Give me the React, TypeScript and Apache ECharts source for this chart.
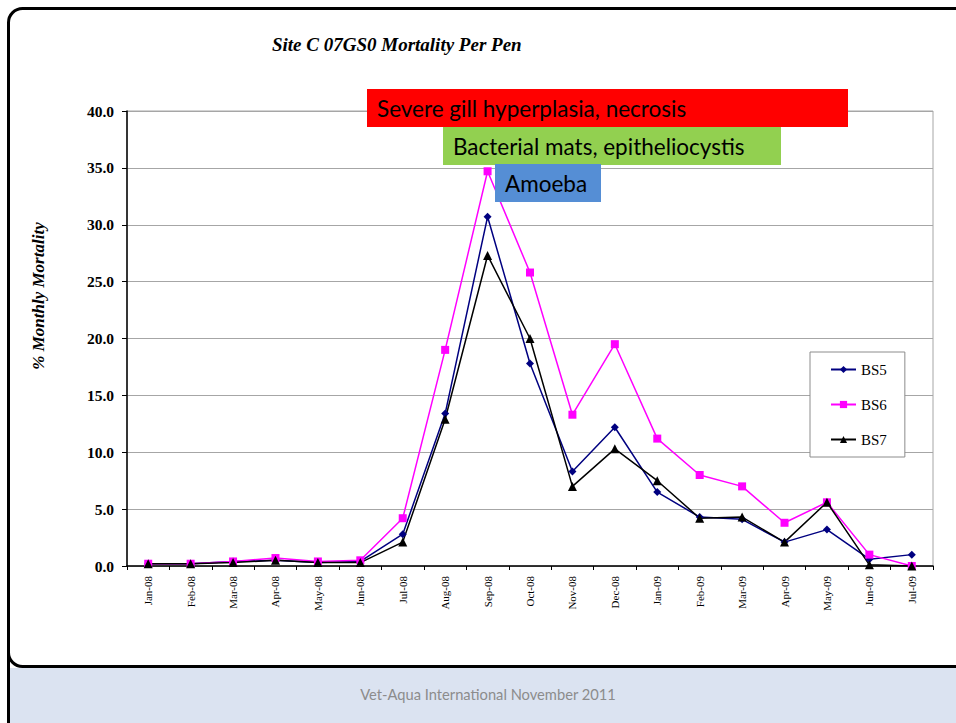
import React, { useEffect, useRef } from "react";
import * as echarts from "echarts";

const categories = [
  "Jan-08", "Feb-08", "Mar-08", "Apr-08", "May-08", "Jun-08", "Jul-08", "Aug-08", "Sep-08", "Oct-08",
  "Nov-08", "Dec-08", "Jan-09", "Feb-09", "Mar-09", "Apr-09", "May-09", "Jun-09", "Jul-09",
];
const bs5 = [0.2, 0.2, 0.4, 0.5, 0.3, 0.4, 2.8, 13.4, 30.7, 17.8, 8.3, 12.2, 6.5, 4.3, 4.1, 2.1, 3.2, 0.6, 1.0];
const bs6 = [0.2, 0.2, 0.4, 0.7, 0.4, 0.5, 4.2, 19.0, 34.7, 25.8, 13.3, 19.5, 11.2, 8.0, 7.0, 3.8, 5.6, 1.0, 0.0];
const bs7 = [0.2, 0.2, 0.3, 0.5, 0.3, 0.3, 2.1, 12.9, 27.3, 20.0, 7.0, 10.3, 7.5, 4.2, 4.3, 2.1, 5.6, 0.1, 0.0];
const seriesNames = ["BS5", "BS6", "BS7"];
const annotations = [
  "Severe gill hyperplasia, necrosis",
  "Bacterial mats, epitheliocystis",
  "Amoeba",
];
const titleText = "Site C 07GS0 Mortality Per Pen";
const yAxisTitle = "% Monthly Mortality";
const footerText = "Vet-Aqua International November 2011";

const SERIF = "'Liberation Serif', 'Times New Roman', serif";
const SANS = "Lato, 'Open Sans', sans-serif";

export default function App() {
  const ref = useRef<HTMLDivElement>(null);
  useEffect(() => {
    if (!ref.current) return;
    const chart = echarts.init(ref.current, undefined, { renderer: "svg" });
    const mkSeries = (name: string, data: number[], color: string, symbol: string, size: number) => ({
      name,
      type: "line",
      data,
      symbol,
      symbolSize: size,
      showAllSymbol: true,
      lineStyle: { color, width: 1.5 },
      itemStyle: { color },
      emphasis: { disabled: true },
    });
    const boxes = [
      { x: 367, y: 89, w: 481, h: 38, color: "#ff0000", tx: 377, text: annotations[0] },
      { x: 443, y: 127, w: 338, h: 38, color: "#92d050", tx: 453, text: annotations[1] },
      { x: 495, y: 164, w: 106, h: 38, color: "#558ed5", tx: 505, text: annotations[2] },
    ];
    chart.setOption({
      animation: false,
      backgroundColor: "#ffffff",
      grid: {
        left: 127,
        right: 23,
        top: 111,
        bottom: 157,
        show: true,
        borderColor: "#a6a6a6",
        borderWidth: 1,
        backgroundColor: "transparent",
      },
      legend: {
        orient: "vertical",
        left: 810,
        top: 352,
        data: seriesNames,
        itemWidth: 25,
        itemHeight: 9,
        itemGap: 20,
        padding: [10, 18, 10, 20],
        borderColor: "#8c8c8c",
        borderWidth: 1,
        backgroundColor: "#ffffff",
        textStyle: { fontFamily: SERIF, fontSize: 15, color: "#000" },
      },
      xAxis: {
        type: "category",
        data: categories,
        boundaryGap: true,
        axisLine: { lineStyle: { color: "#000", width: 1.5 } },
        axisTick: { show: true, interval: 0, length: 4, alignWithLabel: false, lineStyle: { color: "#000" } },
        axisLabel: { interval: 0, rotate: 90, margin: 10, fontFamily: SERIF, fontSize: 11, color: "#000" },
        splitLine: { show: false },
      },
      yAxis: {
        type: "value",
        min: 0,
        max: 40,
        interval: 5,
        axisLine: { show: true, lineStyle: { color: "#000", width: 1.5 } },
        axisTick: { show: true, length: 5, lineStyle: { color: "#000" } },
        axisLabel: {
          margin: 13,
          fontFamily: SERIF,
          fontSize: 15.5,
          fontWeight: "bold",
          color: "#000",
          formatter: (v: number) => v.toFixed(1),
        },
        splitLine: { show: true, lineStyle: { color: "#a6a6a6", width: 1 } },
      },
      series: [
        mkSeries(seriesNames[0], bs5, "#000080", "diamond", 8),
        mkSeries(seriesNames[1], bs6, "#ff00ff", "rect", 8),
        mkSeries(seriesNames[2], bs7, "#000000", "triangle", 9),
      ],
      graphic: [
        {
          type: "rect",
          z: -10,
          silent: true,
          shape: { x: 8.5, y: 8.5, width: 1000, height: 658, r: [14, 0, 0, 14] },
          style: { fill: "#ffffff", stroke: "#000000", lineWidth: 3 },
        },
        {
          type: "rect",
          z: -10,
          silent: true,
          shape: { x: 10, y: 668, width: 960, height: 60 },
          style: { fill: "#dbe3f1" },
        },
        {
          type: "line",
          z: -9,
          silent: true,
          shape: { x1: 8.5, y1: 650, x2: 8.5, y2: 723 },
          style: { stroke: "#000000", lineWidth: 3 },
        },
        {
          type: "text",
          z: 10,
          x: 272,
          y: 44,
          style: {
            text: titleText,
            fontFamily: SERIF,
            fontSize: 19,
            fontWeight: "bold",
            fontStyle: "italic",
            fill: "#000",
            verticalAlign: "middle",
          },
        },
        {
          type: "text",
          z: 10,
          x: 38,
          y: 296,
          rotation: Math.PI / 2,
          style: {
            text: yAxisTitle,
            fontFamily: SERIF,
            fontSize: 17,
            fontWeight: "bold",
            fontStyle: "italic",
            fill: "#000",
            align: "center",
            verticalAlign: "middle",
          },
        },
        ...boxes.flatMap((b) => [
          {
            type: "rect",
            z: 100,
            silent: true,
            shape: { x: b.x, y: b.y, width: b.w, height: b.h },
            style: { fill: b.color },
          },
          {
            type: "text",
            z: 101,
            x: b.tx,
            y: b.y + b.h / 2,
            style: {
              text: b.text,
              fontFamily: SANS,
              fontSize: 22.5,
              fill: "#000",
              verticalAlign: "middle",
            },
          },
        ]),
        {
          type: "text",
          z: 10,
          x: 488,
          y: 694,
          style: {
            text: footerText,
            fontFamily: SANS,
            fontSize: 14.7,
            fill: "#8c8c8c",
            align: "center",
            verticalAlign: "middle",
          },
        },
      ],
    });
    return () => chart.dispose();
  }, []);
  return (
    <div
      ref={ref}
      style={{ position: "absolute", left: 0, top: 0, width: 956, height: 723 }}
    />
  );
}
